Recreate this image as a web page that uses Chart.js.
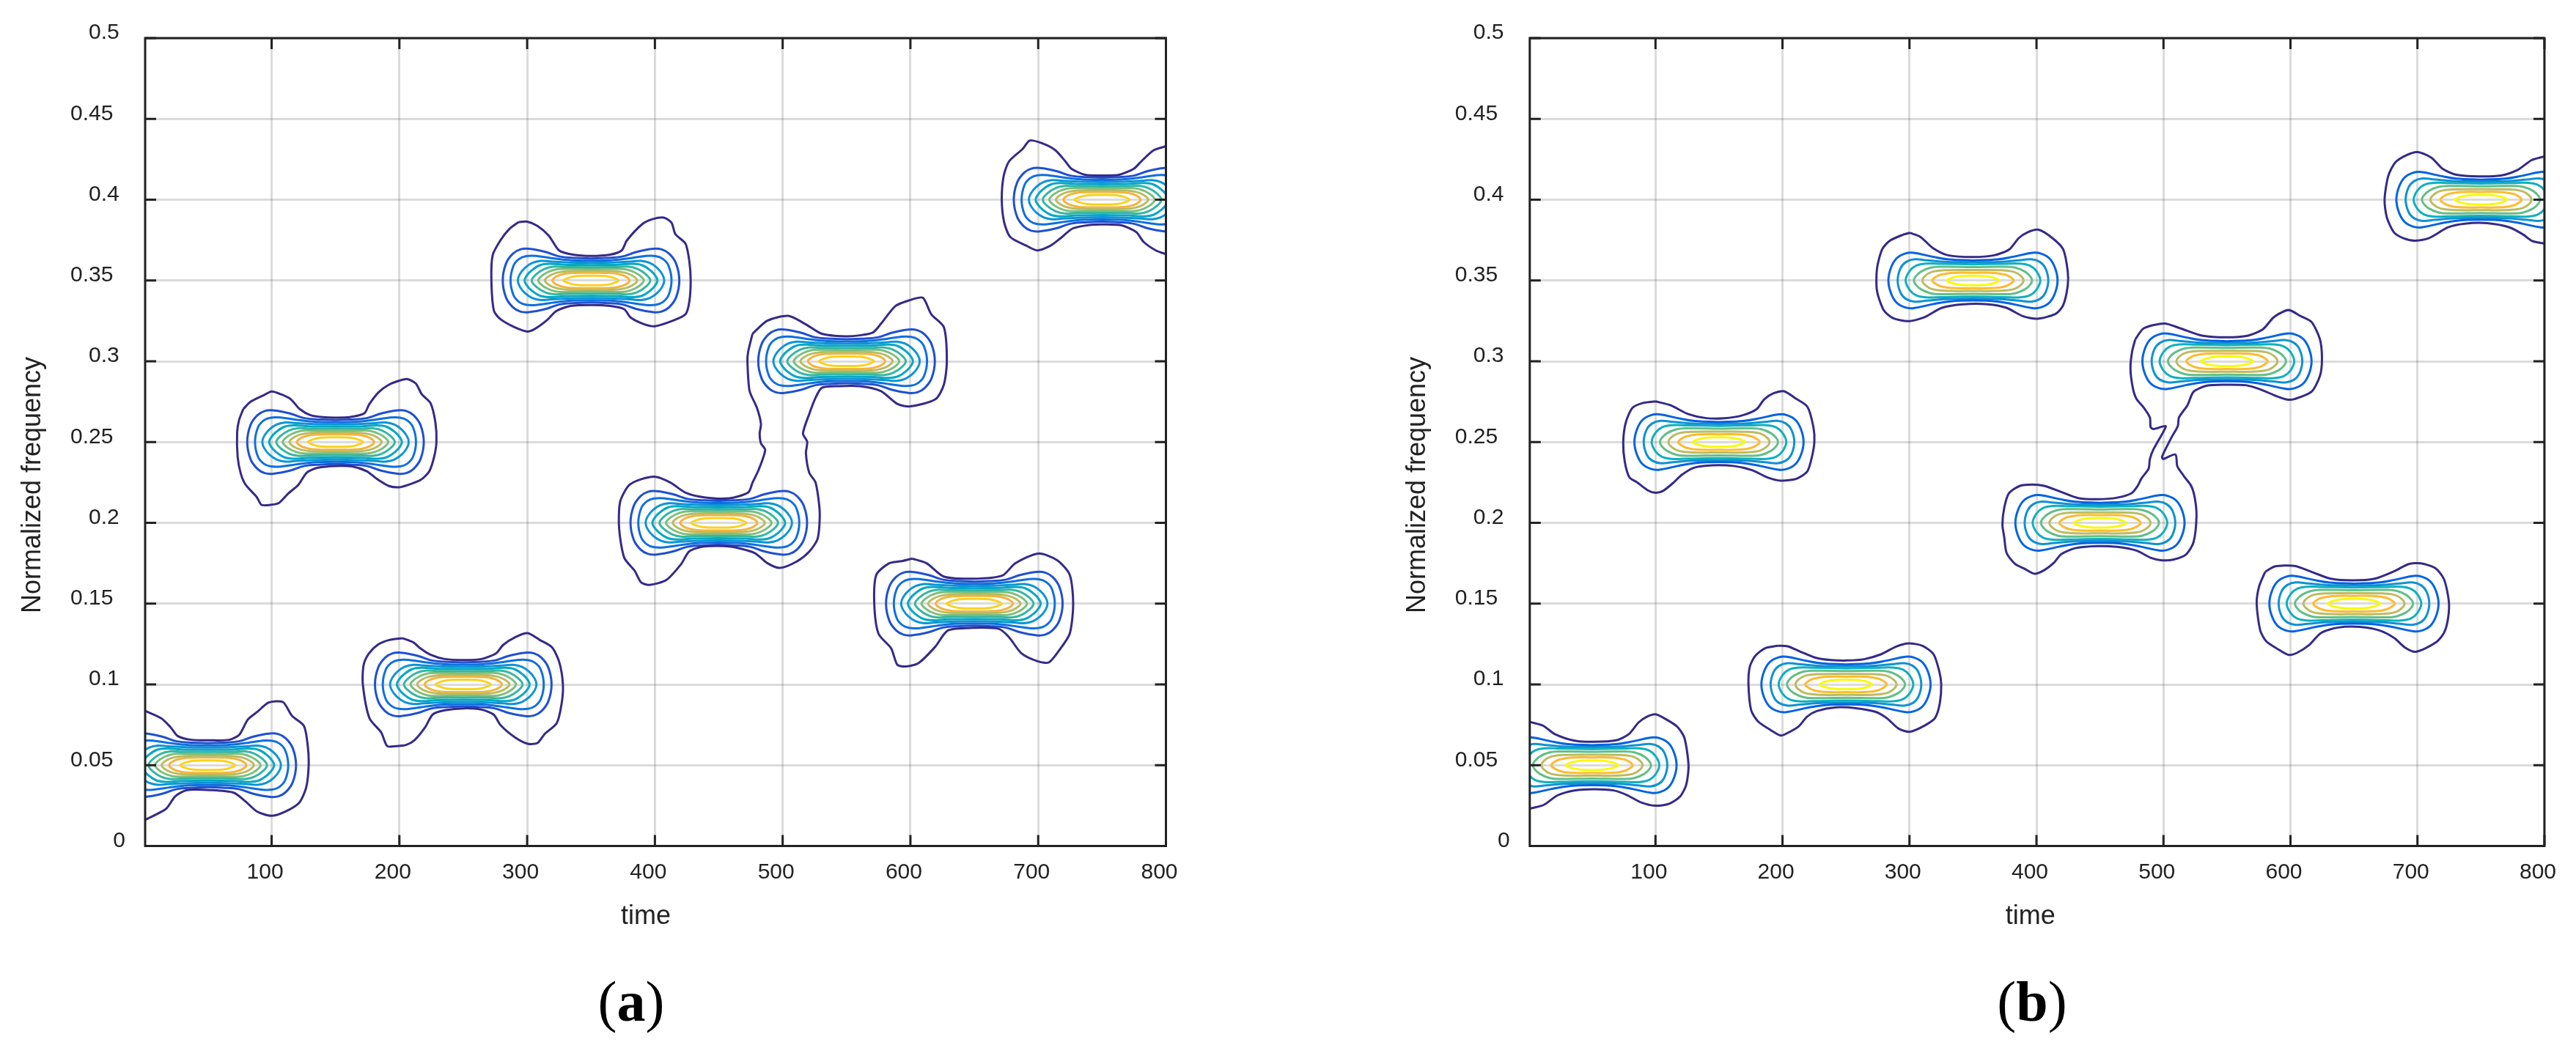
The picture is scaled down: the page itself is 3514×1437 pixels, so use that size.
<!DOCTYPE html>
<html>
<head>
<meta charset="utf-8">
<title>Time-frequency contours</title>
<script src="https://cdn.jsdelivr.net/npm/chart.js@4/dist/chart.umd.min.js"></script>
<style>
  body { margin: 0; background: #fff; width: 3514px; height: 1437px; position: relative; overflow: hidden; }
  canvas { position: absolute; top: 0; }
  #chartA { left: 0; }
  #chartB { left: 1757px; }
  .caption { position: absolute; top: 1367px; transform: translate(-50%, -50%); font: 78px "Liberation Serif", serif; color: #000; }
</style>
</head>
<body>
<canvas id="chartA" width="1757" height="1437"></canvas>
<canvas id="chartB" width="1757" height="1437"></canvas>
<div class="caption" style="left:861px">(<b>a</b>)</div>
<div class="caption" style="left:2772px">(<b>b</b>)</div>
<script>
const xTicks = [100, 200, 300, 400, 500, 600, 700, 800];
const yTickLabels = ['0', '0.05', '0.1', '0.15', '0.2', '0.25', '0.3', '0.35', '0.4', '0.45', '0.5'];
const xTitle = 'time';
const yTitle = 'Normalized frequency';

// centre of each ridge, [time, frequency]
const ridgeCentres = [[50, 0.05], [150, 0.25], [250, 0.1], [350, 0.35], [450, 0.2], [550, 0.3], [650, 0.15], [750, 0.4]];

// inner contours, upper right quarter, offsets from the ridge centre [dt, df]
const innerA1 = [[0,.0136],[11.5,.0139],[24.3,.0148],[35.7,.0177],[48.7,.0196],[55.4,.0192],[61.1,.0166],[66.5,.0106],[69.1,0]];
const innerA2 = [[0,.0122],[15.3,.0125],[28.7,.0136],[42,.0151],[50.6,.0151],[56.3,.0133],[60.7,.0091],[63,0]];
const innerA3 = [[0,.0109],[19.1,.0112],[32.5,.0118],[39.2,.0121],[45.8,.0109],[51.6,.0079],[55.8,.0038],[57.3,0]];
const innerA4 = [[0,.0095],[21,.0098],[32.5,.0103],[40.1,.0094],[46.8,.006],[50.6,.0027],[52,0]];
const innerA5 = [[0,.0082],[21,.0083],[29.6,.0085],[36.3,.0072],[43,.0038],[46.4,0]];
const innerA6 = [[0,.0069],[21,.0071],[27.7,.0068],[34,.0051],[39.2,.0024],[41.3,0]];
const innerA7 = [[0,.0059],[19.1,.0057],[26.7,.0048],[32.5,.0029],[36.1,0]];
const innerA8 = [[0,.0048],[17.2,.0045],[24.8,.0033],[29,.0015],[30.2,0]];
const innerA9 = [[0,.003],[11.5,.0027],[18.1,.0015],[21.6,0]];

const innerB1 = [[0,.0124],[19.1,.013],[32.5,.0148],[46.8,.0171],[53.6,.0166],[60.3,.0136],[64.7,.0076],[66.6,0]];
const innerB2 = [[0,.0112],[23,.0116],[36.3,.0125],[45.9,.0131],[52.6,.0115],[57,.0076],[59.3,0]];
const innerB3 = [[0,.01],[24.9,.0103],[37.2,.0104],[44.9,.0091],[50,.0057],[53,0]];
const innerB4 = [[0,.0083],[24.9,.0085],[33.4,.0079],[41.1,.0054],[45.3,.0023],[46.5,0]];
const innerB5 = [[0,.0065],[23,.0063],[32.5,.0053],[37.9,.0027],[39.8,0]];
const innerB6 = [[0,.0048],[17.2,.0047],[25.8,.0035],[30.6,.0015],[32.1,0]];
const innerB7 = [[0,.003],[9.6,.0027],[16.3,.0017],[20.7,0]];

// outermost contours of panel (a), [time, frequency]
const outerA50 = [[1,.0836],[13.6,.079],[20.9,.0735],[26.4,.0681],[37.4,.0657],[52,.0654],[66.7,.0657],[74.7,.0688],[81.3,.0782],[88.6,.0829],[97.8,.0888],[108.8,.0891],[116,.0805],[125.3,.0743],[128.2,.0626],[129,.05],[127,.0361],[121.6,.0268],[110.6,.0213],[99.6,.0187],[88.6,.0213],[79.5,.0276],[70.3,.033],[52,.0346],[33.7,.0346],[24.5,.0307],[17.2,.0229],[1,.0162]];
const outerA150 = [[77.8,.2704],[83.5,.2749],[93.1,.2787],[100,.2813],[107.5,.2795],[115,.2765],[122,.2704],[130.5,.2666],[140,.2654],[150.6,.2651],[161,.2654],[172.6,.2678],[176.4,.2734],[184,.281],[191.8,.2855],[200.4,.2881],[206,.289],[212.8,.2863],[217.6,.2795],[224.3,.2742],[228.2,.2621],[229,.25],[227.2,.2409],[223.4,.2319],[216.7,.2266],[207,.2235],[200,.222],[191.8,.2228],[182.2,.2273],[174.5,.2319],[163,.2349],[149.6,.2352],[136.2,.2341],[127.6,.2311],[120.9,.2235],[113.2,.2183],[105.6,.2122],[98.9,.2111],[92.1,.2111],[88.3,.216],[79.7,.2235],[75.9,.2303],[73.4,.2409],[73,.256],[74.5,.2636],[77.8,.2704]];
const outerA250 = [[202.3,.1286],[210.9,.126],[216.6,.1222],[224.2,.1184],[235.6,.1157],[250.9,.1151],[264.2,.1157],[275.6,.1192],[281.3,.1245],[290.9,.1293],[300.4,.1317],[309.9,.1275],[319.4,.123],[325.1,.1139],[328,.1],[327,.0882],[323.2,.0761],[313.7,.0693],[308,.0637],[300.4,.0633],[290.9,.067],[279.4,.0746],[273.7,.0814],[264.2,.0844],[250.9,.0852],[235.6,.084],[226.1,.0814],[220.4,.0738],[211.8,.0655],[205.1,.0625],[197.5,.0618],[190.5,.0618],[185.7,.0704],[176.6,.079],[171.4,.1],[172,.112],[176,.119],[183,.1245],[192,.1275],[202.3,.1286]];
const outerA350 = [[293.4,.3862],[300,.3864],[308,.3838],[317,.3777],[325,.3686],[336,.366],[350,.3652],[365,.366],[374,.3686],[378,.3747],[390,.3848],[398,.3879],[407,.3889],[413,.3858],[416,.3787],[424,.3727],[427,.3615],[428,.35],[427,.3372],[424,.3291],[414,.3251],[400,.3217],[391,.3231],[381,.3271],[376,.3322],[365,.3342],[350,.3348],[334,.3342],[323,.3312],[315,.3251],[306,.32],[300,.3184],[290,.3211],[279,.3261],[274,.3312],[272,.35],[273,.3656],[279,.3747],[286,.3818],[293.4,.3862]];
// the 450 and 550 ridges share one outer contour in panel (a)
const outerA450 = [[476.4,.317],[488,.3251],[504.4,.3281],[517.6,.3231],[530.7,.317],[550.5,.3154],[570.2,.3176],[576.8,.3231],[588.3,.3342],[599.9,.3379],[609.7,.3393],[616.3,.3291],[626.2,.3211],[628.5,.3],[626.2,.2856],[619.6,.2765],[599.9,.2721],[590,.2735],[576.8,.2816],[560.4,.2846],[543.9,.2846],[530.7,.2836],[525.8,.2775],[520.8,.2674],[515.9,.2553],[519.2,.2502],[518.2,.2431],[520.8,.231],[525.8,.2249],[529,.2065],[527.4,.1903],[520.8,.1822],[511,.1761],[497.8,.1721],[487.9,.1751],[478,.1814],[458.3,.1854],[438.5,.1854],[427,.1824],[420.4,.1743],[408.9,.1646],[395.7,.1616],[389.1,.1632],[384.2,.1703],[376,.1784],[372,.1964],[372.7,.2127],[379.3,.2229],[389,.2269],[400.7,.2285],[412.2,.2249],[423.7,.2188],[438.5,.2158],[458.3,.2152],[473.1,.2188],[476.4,.2249],[481.3,.233],[486.3,.2451],[483,.2492],[482,.2553],[483,.2613],[479.7,.2715],[474.1,.2816],[472.4,.3],[473,.3059],[476.4,.317]];
const outerA650 = [[601.3,.1779],[612.8,.1749],[626,.1668],[649,.1654],[672,.1674],[682,.1749],[700,.181],[714.8,.1769],[724.7,.1678],[727.4,.15],[724.7,.1314],[716.6,.1213],[708.3,.1136],[700,.1142],[686.9,.1192],[677,.1294],[669,.1344],[649,.135],[629.3,.1334],[619.4,.1233],[606.3,.1132],[596.4,.1111],[589.8,.1121],[584.9,.1223],[575,.1314],[571.7,.15],[573.3,.1678],[583.2,.1749],[593.1,.1763],[601.3,.1779]];
const outerA750 = [[800,.4331],[790.2,.4305],[780.7,.4237],[774.9,.4192],[763.4,.4154],[750,.415],[736.6,.4154],[726,.4192],[721.3,.4237],[713.6,.4305],[704,.4346],[693.5,.4366],[687.7,.4313],[677.2,.4237],[673,.4147],[671.5,.4],[673.4,.3859],[678.2,.3769],[690.6,.3716],[699.2,.3686],[709.8,.3716],[717.4,.3761],[727,.3822],[740.4,.3844],[751.9,.3847],[765.3,.3841],[776.8,.3799],[782.6,.3738],[792.1,.3686],[800,.3663]];

// outermost contours of panel (b)
const outerB50 = [[1,.0768],[11.4,.0745],[20.8,.0692],[36.2,.0652],[51.5,.0645],[69,.0654],[79,.0692],[86.6,.0764],[93.2,.08],[100,.0815],[108.6,.0783],[117.3,.0737],[122.8,.0669],[126,.05],[124.3,.0382],[119.5,.0307],[110.7,.0261],[100,.0249],[88.8,.0269],[77.9,.0314],[66.9,.0344],[51.5,.0352],[36.2,.0344],[23,.0314],[12,.0254],[1,.0231]];
const outerB150 = [[100,.2752],[112,.2727],[125.4,.2674],[139.9,.2648],[154.3,.2647],[168.8,.2666],[179.7,.2704],[185.7,.2765],[193,.2802],[201.4,.2814],[209.9,.2772],[219.6,.2719],[224.4,.2591],[225.1,.25],[223.2,.2409],[219.6,.2319],[211,.2273],[199,.2261],[188.2,.2281],[176.1,.2326],[161.6,.2352],[144.7,.2356],[130.2,.2341],[120.5,.2296],[114.5,.2251],[106,.2198],[100,.2186],[94,.2201],[85.5,.2251],[79.5,.2281],[75.8,.2379],[74.6,.25],[76.6,.2621],[81.9,.2712],[90.3,.2742],[100,.2752]];
const outerB250 = [[196.3,.1239],[204,.1236],[213.8,.1204],[227,.1163],[238,.1151],[251,.1148],[264.3,.1156],[277.4,.1186],[289.5,.1234],[299.3,.1254],[310.3,.1239],[319,.1186],[323.5,.108],[325,.1],[323.9,.0884],[320.2,.0793],[312.5,.0748],[300.4,.0707],[291.7,.0725],[281.8,.0793],[273,.0831],[257.7,.0853],[242.3,.0858],[227,.0835],[219.3,.08],[212.7,.074],[202.9,.0695],[198.5,.0684],[190.8,.0717],[180.9,.077],[175.4,.0838],[173.2,.1],[174.3,.111],[178.7,.1178],[186.4,.1224],[196.3,.1239]];
const outerB350 = [[300.2,.3795],[308.7,.3769],[318.4,.3701],[330.4,.3656],[349.8,.3645],[366.7,.3656],[378.7,.3693],[386,.3762],[393.2,.3799],[401.7,.3814],[412.6,.3762],[421,.3693],[424.6,.3557],[424.6,.3467],[421,.3346],[415,.3293],[400.5,.3263],[389.6,.3278],[376.3,.3331],[361.8,.3353],[342.5,.3353],[325.6,.3331],[311.1,.327],[299,.3248],[287,.3267],[279.7,.3316],[274.4,.3437],[274.4,.3573],[278.5,.3693],[284.5,.3746],[294.2,.3781],[300.2,.3795]];
// same shared contour in panel (b), with the kinked neck
const outerB450 = [[477.8,.3136],[484.5,.3204],[500.8,.3234],[513.2,.3204],[530.4,.3159],[549.5,.3148],[566.7,.3159],[578.2,.3197],[586.8,.3272],[596.4,.3314],[600.2,.3314],[607.9,.328],[616.7,.3242],[623.2,.3136],[624.8,.3015],[623.2,.2909],[616.5,.2811],[603.1,.2766],[597.3,.2763],[587.8,.2788],[576.3,.2826],[564.8,.2852],[547.6,.2855],[534.2,.2849],[523.7,.2811],[518.9,.2728],[512.2,.2652],[511.3,.2599],[506.5,.2531],[498.9,.241],[499.8,.2395],[509.4,.2423],[510.9,.235],[516.1,.2289],[521.8,.2229],[524.7,.2153],[526,.204],[523.7,.1881],[518,.1806],[507.5,.1772],[498.9,.1768],[490.2,.1783],[478.8,.1828],[463.5,.1851],[448.2,.1856],[431,.1844],[419.5,.1806],[413.8,.1753],[406.1,.1707],[398.5,.1685],[390.8,.1715],[383.2,.1745],[376.5,.1813],[374.6,.1912],[373.2,.1987],[374.6,.2093],[378.4,.2184],[387,.2229],[396.6,.2237],[406.1,.2229],[419.5,.2191],[432.9,.2153],[448.2,.2146],[463.5,.2156],[475,.2184],[479.7,.2229],[482.6,.2274],[488.3,.2335],[489.3,.2395],[492.2,.2456],[499.8,.2562],[501.7,.2599],[492.2,.2581],[489.9,.2592],[489.3,.2652],[484.5,.2713],[478.8,.2766],[475.9,.2834],[474,.2955],[475.3,.306],[477.8,.3136]];
const outerB650 = [[580.1,.1697],[587.7,.173],[603.1,.1734],[616.5,.1697],[631.8,.1654],[649,.1644],[666.3,.1654],[681.6,.17],[693.1,.1745],[702.7,.1749],[714.2,.1719],[720.9,.1651],[724.7,.1515],[724.1,.1409],[720.9,.1319],[714.2,.1258],[698.9,.1202],[690.2,.1228],[681.6,.1288],[670.1,.1334],[654.8,.1356],[637.5,.1352],[624.1,.1319],[614.6,.1243],[605,.1195],[598.3,.1183],[589.7,.122],[581,.1266],[576.2,.1334],[573.4,.15],[575.3,.1606],[580.1,.1697]];
const outerB750 = [[800,.4268],[789.9,.4245],[778.9,.4184],[765.8,.415],[748.2,.4144],[730.7,.4154],[719.7,.4192],[711,.426],[700,.4295],[691.2,.4275],[682.5,.423],[677,.4147],[674.1,.4],[675.9,.389],[681.4,.3799],[689,.3761],[697.8,.3746],[708.8,.3761],[724.1,.3829],[737.3,.3852],[754.8,.3855],[772.4,.3829],[783.3,.3784],[789.9,.3746],[800,.3728]];

const innerLevelsA = [innerA1, innerA2, innerA3, innerA4, innerA5, innerA6, innerA7, innerA8, innerA9];
const innerLevelsB = [innerB1, innerB2, innerB3, innerB4, innerB5, innerB6, innerB7];
const outersA = [outerA50, outerA150, outerA250, outerA350, outerA450, outerA650, outerA750];
const outersB = [outerB50, outerB150, outerB250, outerB350, outerB450, outerB650, outerB750];

const outerColor = '#352a87';
const coloursA = ['#1f50d0', '#0f6fe0', '#0b95d5', '#05a8c4', '#35b7a2', '#7cbf7c', '#b9bb63', '#f3b53f', '#fad21f'];
const coloursB = ['#0363e1', '#0f92d3', '#0fb0be', '#62bf88', '#bcbb63', '#fdbb30', '#f8fa0d'];

// quarter contour -> closed loop around a ridge centre
function ringAround(centre, quarter) {
  const topRight = quarter;
  const bottomRight = quarter.slice(0, -1).reverse().map(p => [p[0], -p[1]]);
  const bottomLeft = quarter.slice(1).map(p => [-p[0], -p[1]]);
  const topLeft = quarter.slice(1, -1).reverse().map(p => [-p[0], p[1]]);
  const ring = [...topRight, ...bottomRight, ...bottomLeft, ...topLeft, quarter[0]];
  return ring.map(p => ({x: centre[0] + p[0], y: centre[1] + p[1]}));
}

function contourSets(outers, innerLevels, colours) {
  const sets = [];
  outers.forEach(outer => {
    sets.push({data: outer.map(p => ({x: p[0], y: p[1]})), borderColor: outerColor, tension: 0.25});
  });
  ridgeCentres.forEach(centre => {
    innerLevels.forEach((level, i) => {
      sets.push({data: ringAround(centre, level), borderColor: colours[i], tension: 0.4});
    });
  });
  return sets;
}

// frame, inward ticks and axis titles
const frameAndTitles = {
  id: 'frameAndTitles',
  afterDraw(chart) {
    const {ctx, chartArea: a, scales} = chart;
    const tickLen = 15;
    ctx.save();
    ctx.strokeStyle = '#222';
    ctx.lineWidth = 3;
    ctx.beginPath();
    scales.x.ticks.forEach(t => {
      const px = scales.x.getPixelForValue(t.value);
      ctx.moveTo(px, a.top); ctx.lineTo(px, a.top + tickLen);
      ctx.moveTo(px, a.bottom); ctx.lineTo(px, a.bottom - tickLen);
    });
    scales.y.ticks.forEach(t => {
      const py = scales.y.getPixelForValue(t.value);
      ctx.moveTo(a.left, py); ctx.lineTo(a.left + tickLen, py);
      ctx.moveTo(a.right, py); ctx.lineTo(a.right - tickLen, py);
    });
    ctx.stroke();
    ctx.strokeRect(a.left, a.top, a.right - a.left, a.bottom - a.top);

    ctx.fillStyle = '#222';
    ctx.font = '36px "Liberation Sans", Arial, sans-serif';
    ctx.textAlign = 'center';
    ctx.textBaseline = 'middle';
    ctx.fillText(xTitle, a.left + 683, a.bottom + 97);
    ctx.translate(a.left - 153, a.top + 610);
    ctx.rotate(-Math.PI / 2);
    ctx.fillText(yTitle, 0, 0);
    ctx.restore();
  }
};

function drawPanel(canvasId, datasets, leftEdge, rightPad) {
  return new Chart(document.getElementById(canvasId), {
    type: 'scatter',
    data: {datasets},
    plugins: [frameAndTitles],
    options: {
      responsive: false,
      animation: false,
      showLine: true,
      layout: {padding: {top: 52, right: rightPad, bottom: 182.5, left: 0}},
      elements: {point: {radius: 0}, line: {borderWidth: 3}},
      plugins: {legend: {display: false}, tooltip: {enabled: false}},
      scales: {
        x: {
          type: 'linear', min: 1, max: 800,
          afterFit: scale => { scale.height = 100; },
          afterBuildTicks: scale => { scale.ticks = xTicks.map(v => ({value: v})); },
          border: {display: false},
          grid: {color: 'rgba(0,0,0,0.14)', lineWidth: 3, drawTicks: false},
          ticks: {
            autoSkip: false, maxRotation: 0, padding: 18, labelOffset: -9, color: '#222',
            font: {family: '"Liberation Sans", Arial, sans-serif', size: 30},
            callback: v => String(v)
          }
        },
        y: {
          type: 'linear', min: 0, max: 0.5,
          afterFit: scale => { scale.width = leftEdge; },
          border: {display: false},
          grid: {color: 'rgba(0,0,0,0.14)', lineWidth: 3, drawTicks: false},
          ticks: {
            stepSize: 0.05, autoSkip: false, padding: 27, labelOffset: -7, color: '#222',
            font: {family: '"Liberation Sans", Arial, sans-serif', size: 30},
            // matlab-style labels do not line up on the right, nudge them with spaces
            callback: (v, i) => yTickLabels[i] + '\u00a0'.repeat(yTickLabels[i].length > 3 ? 2 : yTickLabels[i].length > 1 ? 1 : 0)
          }
        }
      }
    }
  });
}

drawPanel('chartA', contourSets(outersA, innerLevelsA, coloursA), 198, 166.5);
drawPanel('chartB', contourSets(outersB, innerLevelsB, coloursB), 329.8, 34.5);
</script>
</body>
</html>
